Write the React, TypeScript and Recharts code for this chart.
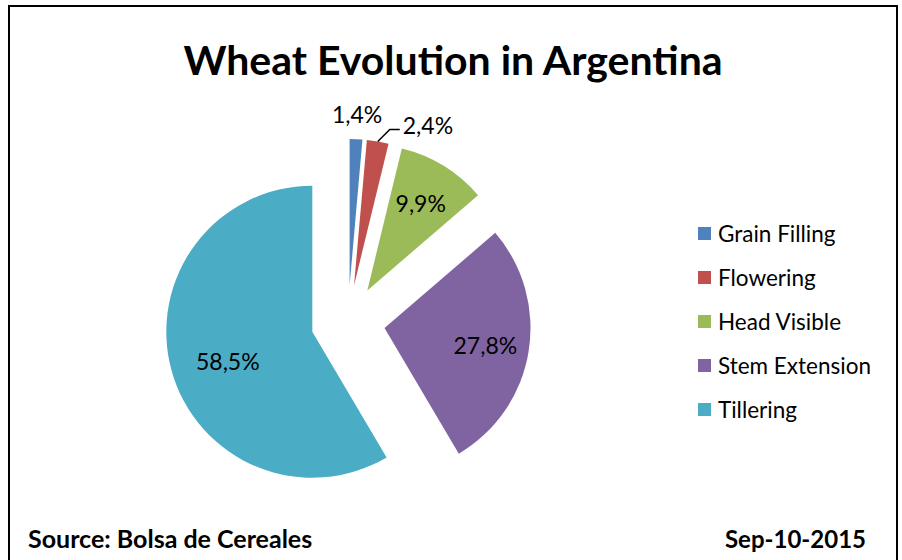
import { Legend, Pie, PieChart, Sector } from 'recharts'

const stages = ['Grain Filling', 'Flowering', 'Head Visible', 'Stem Extension', 'Tillering']
const shares = [1.4, 2.4, 9.9, 27.8, 58.5]
const colors = ['#4F81BD', '#C0504D', '#9BBB59', '#8064A2', '#4BACC6']

const data = stages.map((name, i) => ({ name, value: shares[i], fill: colors[i] }))

const FONT = 'Lato, "Open Sans", sans-serif'
const EXPLODE = 37
const RADIAN = Math.PI / 180

const fmt = (v: number) => `${v.toFixed(1).replace('.', ',')}%`

function polar(angle: number, dist: number) {
  return { x: dist * Math.cos(-angle * RADIAN), y: dist * Math.sin(-angle * RADIAN) }
}

function ExplodedSlice(props: any) {
  const { cx, cy, midAngle, innerRadius, outerRadius, startAngle, endAngle, fill } = props
  const o = polar(midAngle, EXPLODE)
  return (
    <Sector
      cx={cx + o.x}
      cy={cy + o.y}
      endAngle={endAngle}
      fill={fill}
      innerRadius={innerRadius}
      outerRadius={outerRadius}
      startAngle={startAngle}
      stroke="none"
    />
  )
}

function SliceLabel(props: any) {
  const { cx, cy, midAngle, outerRadius, percent, value } = props
  const c = polar(midAngle, EXPLODE)
  const ox = cx + c.x
  const oy = cy + c.y
  const textProps = { fill: '#000', fontFamily: FONT, fontSize: 23 }

  // tiny slice: label sits just outside the rim
  if (percent < 0.02) {
    const p = polar(midAngle, outerRadius + 25)
    return (
      <text {...textProps} dominantBaseline="central" textAnchor="middle" x={ox + p.x} y={oy + p.y}>
        {fmt(value)}
      </text>
    )
  }
  // small slice: elbow leader line
  if (percent < 0.05) {
    const e = polar(midAngle, outerRadius)
    const x1 = ox + e.x
    const y1 = oy + e.y
    const x2 = x1 + 12
    const y2 = y1 - 12
    const x3 = x2 + 10
    return (
      <g>
        <path d={`M${x1},${y1}L${x2},${y2}L${x3},${y2}`} fill="none" stroke="#000" strokeWidth={1.5} />
        <text {...textProps} dominantBaseline="central" textAnchor="start" x={x3 + 3} y={y2 - 4}>
          {fmt(value)}
        </text>
      </g>
    )
  }
  const p = polar(midAngle, outerRadius * (percent > 0.5 ? 0.6 : 0.7))
  return (
    <text {...textProps} dominantBaseline="central" textAnchor="middle" x={ox + p.x} y={oy + p.y + (percent > 0.5 ? 6 : 0)}>
      {fmt(value)}
    </text>
  )
}

function LegendList() {
  return (
    <div style={{ color: '#000', fontFamily: FONT, fontSize: 22.5 }}>
      {stages.map((s, i) => (
        <div key={s} style={{ alignItems: 'center', display: 'flex', height: 44 }}>
          <span style={{ background: colors[i], display: 'inline-block', height: 13, marginRight: 7, width: 13 }} />
          <span>{s}</span>
        </div>
      ))}
    </div>
  )
}

export default function App() {
  return (
    <div style={{ background: '#fff', height: 560, left: 0, overflow: 'hidden', position: 'fixed', top: 0, width: 902 }}>
      <div
        style={{
          border: '2px solid #000',
          boxSizing: 'border-box',
          height: 620,
          left: 8,
          position: 'absolute',
          top: 5,
          width: 890,
        }}
      />
      <div style={{ left: 0, position: 'absolute', top: 0 }}>
        <PieChart height={560} margin={{ bottom: 0, left: 0, right: 0, top: 0 }} width={902}>
          <text fill="#000" fontFamily={FONT} fontSize={41} fontWeight={700} textAnchor="middle" x={453} y={75}>
            Wheat Evolution in Argentina
          </text>
          <Pie
            cx={348}
            cy={322}
            data={data}
            dataKey="value"
            endAngle={-270}
            isAnimationActive={false}
            label={SliceLabel}
            labelLine={false}
            nameKey="name"
            outerRadius={146}
            shape={ExplodedSlice}
            startAngle={90}
            stroke="none"
          />
          <Legend
            align="right"
            content={LegendList}
            layout="vertical"
            verticalAlign="middle"
            wrapperStyle={{ left: 698, right: 'auto', top: 211, width: 200 }}
          />
          <text fill="#000" fontFamily={FONT} fontSize={25} fontWeight={700} textAnchor="start" x={28} y={548}>
            Source: Bolsa de Cereales
          </text>
          <text fill="#000" fontFamily={FONT} fontSize={24} fontWeight={700} textAnchor="end" x={866} y={548}>
            Sep-10-2015
          </text>
        </PieChart>
      </div>
    </div>
  )
}
